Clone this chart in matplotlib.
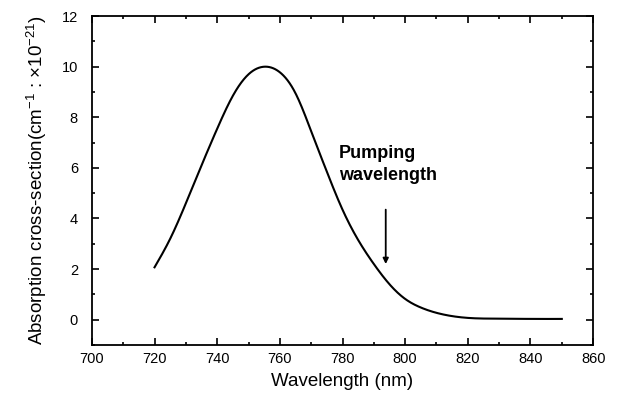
import matplotlib
matplotlib.use("Agg")
import matplotlib.pyplot as plt
import numpy as np
from matplotlib.ticker import MultipleLocator

wavelength = [720, 725, 730, 735, 740, 745, 750, 755, 760, 765, 770, 775, 780,
              785, 790, 795, 800, 805, 810, 815, 820, 830, 840, 850]
cross_section = [2.07, 3.2, 4.6, 6.1, 7.55, 8.85, 9.7, 10.0, 9.78, 8.95, 7.45, 5.85, 4.35,
                 3.15, 2.2, 1.4, 0.82, 0.48, 0.27, 0.14, 0.07, 0.04, 0.03, 0.03]
pump_wavelength = 793.8
annotation_text = "Pumping\nwavelength"

plt.rcParams['font.family'] = ['Liberation Sans', 'DejaVu Sans']
plt.rcParams['mathtext.default'] = 'regular'

fig = plt.figure(figsize=(6.25, 4.03), dpi=100)
ax = fig.add_axes([0.147, 0.144, 0.802, 0.816])

xs = np.array(wavelength, float)
ys = np.array(cross_section, float)

def natural_spline(x, y, xn):
    n = len(x)
    h = np.diff(x)
    A = np.zeros((n, n)); b = np.zeros(n)
    A[0, 0] = 1; A[-1, -1] = 1
    for i in range(1, n - 1):
        A[i, i-1] = h[i-1]; A[i, i] = 2*(h[i-1] + h[i]); A[i, i+1] = h[i]
        b[i] = 6*((y[i+1]-y[i])/h[i] - (y[i]-y[i-1])/h[i-1])
    M = np.linalg.solve(A, b)
    idx = np.clip(np.searchsorted(x, xn) - 1, 0, n - 2)
    x0 = x[idx]; x1 = x[idx+1]; hh = h[idx]
    return (M[idx]*(x1-xn)**3/(6*hh) + M[idx+1]*(xn-x0)**3/(6*hh)
            + (y[idx]/hh - M[idx]*hh/6)*(x1-xn) + (y[idx+1]/hh - M[idx+1]*hh/6)*(xn-x0))

xn = np.linspace(xs[0], xs[-1], 800)
ax.plot(xn, natural_spline(xs, ys, xn), color='black', lw=1.5)

ax.annotate("", xy=(pump_wavelength, 2.2), xytext=(pump_wavelength, 4.35),
            arrowprops=dict(arrowstyle='-|>', color='black', lw=1.3,
                            mutation_scale=8, shrinkA=0, shrinkB=0))
ax.text(778.8, 6.9, annotation_text, fontsize=13, ha='left', va='top',
        linespacing=1.4, fontweight='bold')

ax.set_xlim(700, 860)
ax.set_ylim(-1, 12)
ax.xaxis.set_major_locator(MultipleLocator(20))
ax.xaxis.set_minor_locator(MultipleLocator(10))
ax.yaxis.set_major_locator(MultipleLocator(2))
ax.yaxis.set_minor_locator(MultipleLocator(1))
ax.tick_params(which='both', direction='in', top=True, right=True, labelsize=10.5, width=1.2)
ax.tick_params(which='major', length=5)
ax.tick_params(which='minor', length=2.5)
ax.tick_params(axis='y', which='major', pad=10)
ax.tick_params(axis='x', which='major', pad=5)
for s in ax.spines.values():
    s.set_linewidth(1.3)
ax.set_xlabel("Wavelength (nm)", fontsize=13.5, labelpad=5)
ax.set_ylabel("Absorption cross-section(cm$^{-1}$ : ×10$^{-21}$)", fontsize=13.5, labelpad=9)

fig.savefig("out.png", dpi=100)
